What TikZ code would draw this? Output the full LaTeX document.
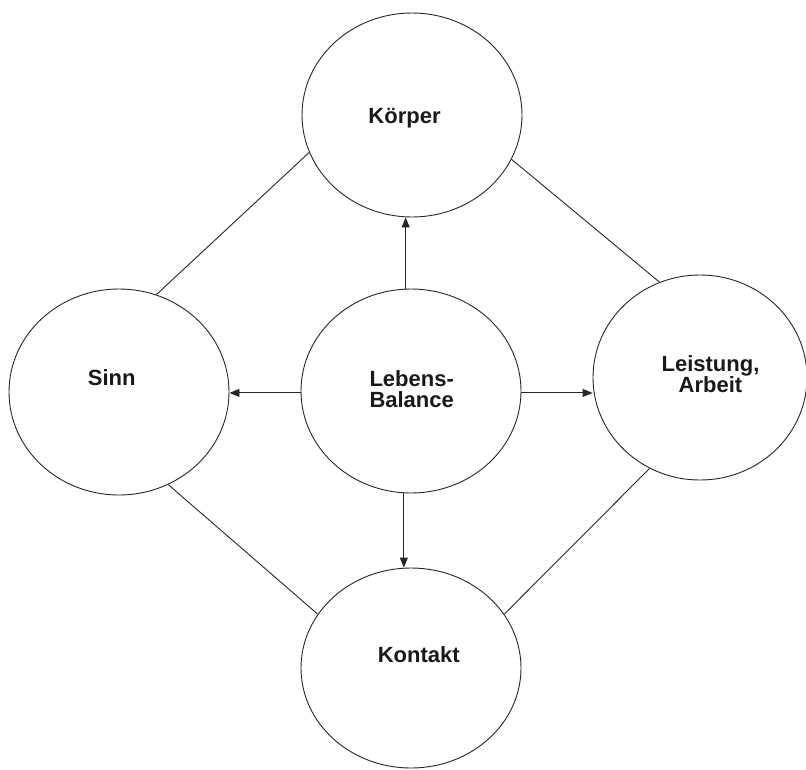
\documentclass[tikz,border=0pt]{standalone}
\usepackage{fontspec}
\setmainfont{Liberation Sans}
\usetikzlibrary{shapes.geometric,arrows.meta}
\tikzset{
  bubble/.style={ellipse,draw=black!85,line width=0.9pt,inner sep=0pt},
  lbl/.style={font=\bfseries\fontsize{22}{21}\selectfont,anchor=base,inner sep=0pt,text=black!90},
  link/.style={draw=black!85,line width=0.9pt},
  arr/.style={link,-{Triangle[length=10pt,width=8pt]}}
}
\begin{document}
\begin{tikzpicture}[x=1pt,y=-1pt]
\useasboundingbox (0,0) rectangle (806,769);
\node[bubble,minimum width=220pt,minimum height=204pt] (koe) at (412,115) {};
\node[bubble,minimum width=220pt,minimum height=206pt] (sinn) at (119,392) {};
\node[bubble,minimum width=220pt,minimum height=204pt] (leb) at (411,391) {};
\node[bubble,minimum width=214pt,minimum height=205pt] (lei) at (700,377.5) {};
\node[bubble,minimum width=220pt,minimum height=200pt] (kon) at (411,668) {};
\node[lbl] (tkoe) at (404.5,123) {Körper};
\node[lbl] (tsinn) at (111.7,385.7) {Sinn};
\node[lbl] (tleb1) at (411.7,386) {Lebens-};
\node[lbl] (tleb2) at (411.7,407) {Balance};
\node[lbl] (tlei1) at (710.5,371) {Leistung,};
\node[lbl] (tlei2) at (710.5,392) {Arbeit};
\node[lbl] (tkon) at (418.7,662.7) {Kontakt};
% arrows from centre
\draw[arr] (leb.93.9) -- (leb.93.9 |- koe.south);
\draw[arr] (leb.266.1) -- (leb.266.1 |- kon.north);
\draw[arr] (leb.181) -- (leb.181 -| sinn.east);
\draw[arr] (leb.359) -- (leb.359 -| lei.west);
% outer diamond
\draw[link] (sinn.69) -- (koe.200);
\draw[link] (koe.336.5) -- (lei.113.5);
\draw[link] (sinn.298.3) -- (kon.150.8);
\draw[link] (lei.241) -- (kon.30.9);
\end{tikzpicture}
\end{document}
